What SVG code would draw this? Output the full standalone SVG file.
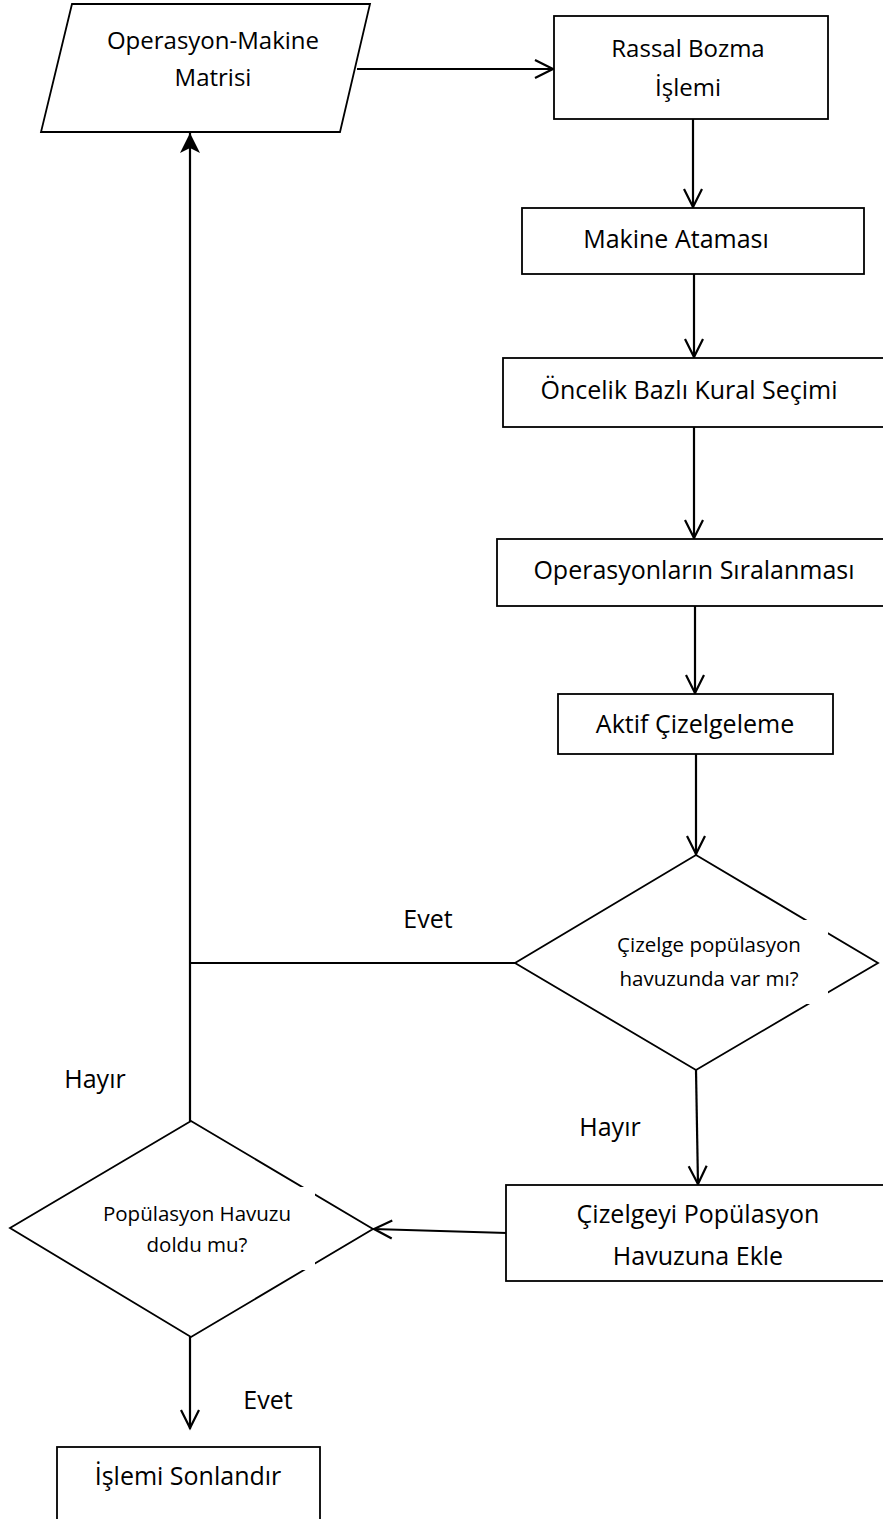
<svg xmlns="http://www.w3.org/2000/svg" width="883" height="1519" viewBox="0 0 883 1519">
  <style>
    .shape { fill: #fff; stroke: #000; stroke-width: 1.8; }
    .link { fill: none; stroke: #000; stroke-width: 2.2; }
    .box { font-family: "Open Sans", "Liberation Sans", sans-serif; font-size: 25px; fill: #000; text-anchor: middle; }
    .io { font-family: "Open Sans", "Liberation Sans", sans-serif; font-size: 24px; fill: #000; text-anchor: middle; }
    .dec { font-family: "Open Sans", "Liberation Sans", sans-serif; font-size: 20.5px; fill: #000; text-anchor: middle; }
    .lbl { font-family: "Open Sans", "Liberation Sans", sans-serif; font-size: 25px; fill: #000; text-anchor: middle; }
    .mask { fill: #fff; stroke: none; }
  </style>
  <defs>
    <marker id="open" viewBox="-22 -12 24 24" refX="0" refY="0" markerWidth="24" markerHeight="24" markerUnits="userSpaceOnUse" orient="auto">
      <path d="M-19,-9 L-1,0 L-19,9" fill="none" stroke="#000" stroke-width="2.2"/>
    </marker>
    <marker id="solid" viewBox="-22 -12 24 24" refX="0" refY="0" markerWidth="24" markerHeight="24" markerUnits="userSpaceOnUse" orient="auto">
      <path d="M0,0 L-20,-10 L-15,0 L-20,10 Z" fill="#000"/>
    </marker>
  </defs>

  <rect width="883" height="1519" fill="#fff"/>

  <!-- connectors -->
  <g id="connectors">
    <path class="link" d="M357,69 H554" marker-end="url(#open)"/>
    <path class="link" d="M693,119 V208" marker-end="url(#open)"/>
    <path class="link" d="M694,274 V358" marker-end="url(#open)"/>
    <path class="link" d="M694,427 V539" marker-end="url(#open)"/>
    <path class="link" d="M695,606 V694" marker-end="url(#open)"/>
    <path class="link" d="M696,754 V855" marker-end="url(#open)"/>
    <path class="link" d="M515,963 H190"/>
    <path class="link" d="M696,1070 L698,1185" marker-end="url(#open)"/>
    <path class="link" d="M507,1233 L373,1229" marker-end="url(#open)"/>
    <path class="link" d="M190,1121 V133" marker-end="url(#solid)"/>
    <path class="link" d="M190,1337 V1429" marker-end="url(#open)"/>
  </g>

  <!-- input: operation-machine matrix -->
  <g id="matrix">
    <polygon class="shape" points="72,4 370,4 340,132 41,132"/>
    <text class="io" x="213" y="49">Operasyon-Makine</text>
    <text class="io" x="213" y="86">Matrisi</text>
  </g>

  <g id="perturb">
    <rect class="shape" x="554" y="16" width="274" height="103"/>
    <text class="io" x="688" y="57">Rassal Bozma</text>
    <text class="io" x="688" y="96">İşlemi</text>
  </g>

  <g id="assign">
    <rect class="shape" x="522" y="208" width="342" height="66"/>
    <text class="box" x="676" y="248">Makine Ataması</text>
  </g>

  <g id="rule">
    <rect class="shape" x="503" y="358" width="400" height="69"/>
    <text class="box" x="689" y="399">Öncelik Bazlı Kural Seçimi</text>
  </g>

  <g id="sequence">
    <rect class="shape" x="497" y="539" width="406" height="67"/>
    <text class="box" x="694" y="579">Operasyonların Sıralanması</text>
  </g>

  <g id="schedule">
    <rect class="shape" x="558" y="694" width="275" height="60"/>
    <text class="box" x="695" y="733">Aktif Çizelgeleme</text>
  </g>

  <!-- decision: already in pool? -->
  <g id="in-pool">
    <polygon class="shape" points="696,855 878,963 696,1070 515,963"/>
    <rect class="mask" x="600" y="920" width="228" height="84"/>
    <text class="dec" x="709" y="952">Çizelge popülasyon</text>
    <text class="dec" x="709" y="986">havuzunda var mı?</text>
  </g>

  <g id="add-to-pool">
    <rect class="shape" x="506" y="1185" width="400" height="96"/>
    <text class="box" x="698" y="1223">Çizelgeyi Popülasyon</text>
    <text class="box" x="698" y="1265">Havuzuna Ekle</text>
  </g>

  <!-- decision: pool full? -->
  <g id="pool-full">
    <polygon class="shape" points="191,1121 373,1229 191,1337 10,1228"/>
    <rect class="mask" x="90" y="1187" width="225" height="83"/>
    <text class="dec" x="197" y="1221">Popülasyon Havuzu</text>
    <text class="dec" x="197" y="1252">doldu mu?</text>
  </g>

  <g id="finish">
    <rect class="shape" x="57" y="1447" width="263" height="90"/>
    <text class="box" x="188" y="1485">İşlemi Sonlandır</text>
  </g>

  <!-- branch labels -->
  <g id="labels">
    <text class="lbl" x="428" y="928">Evet</text>
    <text class="lbl" x="95" y="1088">Hayır</text>
    <text class="lbl" x="610" y="1136">Hayır</text>
    <text class="lbl" x="268" y="1409">Evet</text>
  </g>
</svg>
